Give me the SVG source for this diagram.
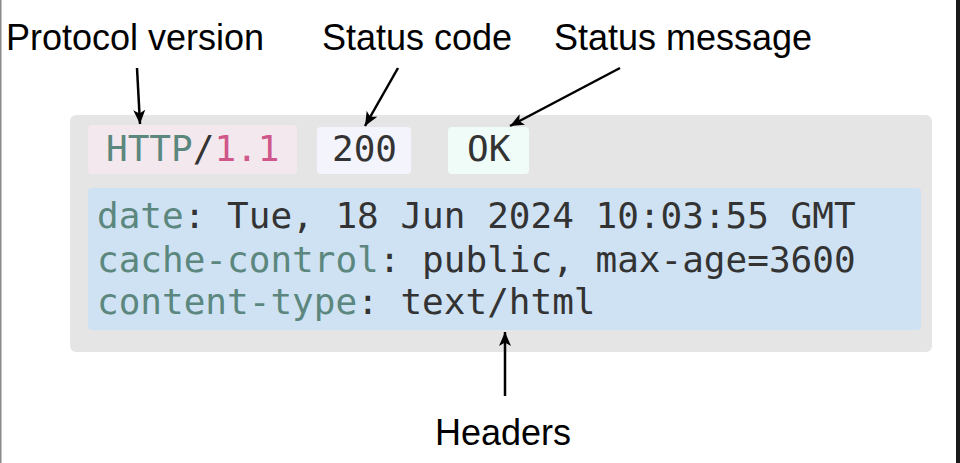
<svg xmlns="http://www.w3.org/2000/svg" width="960" height="463" viewBox="0 0 960 463">
<defs>
<marker id="ah" viewBox="0 0 10 10" refX="10" refY="5" markerWidth="14" markerHeight="12" markerUnits="userSpaceOnUse" orient="auto" preserveAspectRatio="none">
<path d="M0,0 L10,5 L0,10 L2.5,5 Z" fill="#000"/>
</marker>
<style>
.lbl{font-family:"Liberation Sans",Arial,sans-serif;font-size:36px;fill:#000}
.mono{font-family:"DejaVu Sans Mono",monospace;font-size:36px;fill:#333}
.key{fill:#5b877e}
.num{fill:#d0578a}
.conn{stroke:#000;stroke-width:2.5;fill:none}
</style>
</defs>
<rect x="0" y="0" width="960" height="463" fill="#fff"/>
<line x1="0.75" y1="0" x2="0.75" y2="463" stroke="#8a8a8a" stroke-width="1.5"/>
<line x1="958" y1="0" x2="958" y2="463" stroke="#1a1a1a" stroke-width="4"/>
<g id="message">
<rect x="70" y="115" width="862" height="237" rx="6" fill="#e5e5e5"/>
</g>
<g id="protocol">
<rect x="88" y="125" width="209" height="49" rx="4" fill="#f3e8ed"/>
<text class="mono" x="106" y="161"><tspan class="key">HTTP</tspan>/<tspan class="num">1.1</tspan></text>
</g>
<g id="status-code">
<rect x="317" y="127" width="94" height="47" rx="4" fill="#f4f4fc"/>
<text class="mono" x="332" y="161">200</text>
</g>
<g id="status-message">
<rect x="448" y="127" width="81" height="47" rx="4" fill="#effcf8"/>
<text class="mono" x="467" y="161">OK</text>
</g>
<g id="headers">
<rect x="88" y="188" width="833" height="142" rx="4" fill="#cfe2f3"/>
<text class="mono" x="97" y="228"><tspan class="key">date</tspan>: Tue, 18 Jun 2024 10:03:55 GMT</text>
<text class="mono" x="97" y="272"><tspan class="key">cache-control</tspan>: public, max-age=3600</text>
<text class="mono" x="97" y="314"><tspan class="key">content-type</tspan>: text/html</text>
</g>
<g id="labels">
<text class="lbl" x="6" y="50">Protocol version</text>
<text class="lbl" x="417" y="50" text-anchor="middle">Status code</text>
<text class="lbl" x="683" y="50" text-anchor="middle">Status message</text>
<text class="lbl" x="503" y="445" text-anchor="middle">Headers</text>
</g>
<g id="connectors">
<line class="conn" x1="137" y1="68" x2="140" y2="124" marker-end="url(#ah)"/>
<line class="conn" x1="398" y1="68" x2="365" y2="126" marker-end="url(#ah)"/>
<line class="conn" x1="620" y1="68" x2="510" y2="126" marker-end="url(#ah)"/>
<line class="conn" x1="505" y1="396" x2="505" y2="332" marker-end="url(#ah)"/>
</g>
</svg>
